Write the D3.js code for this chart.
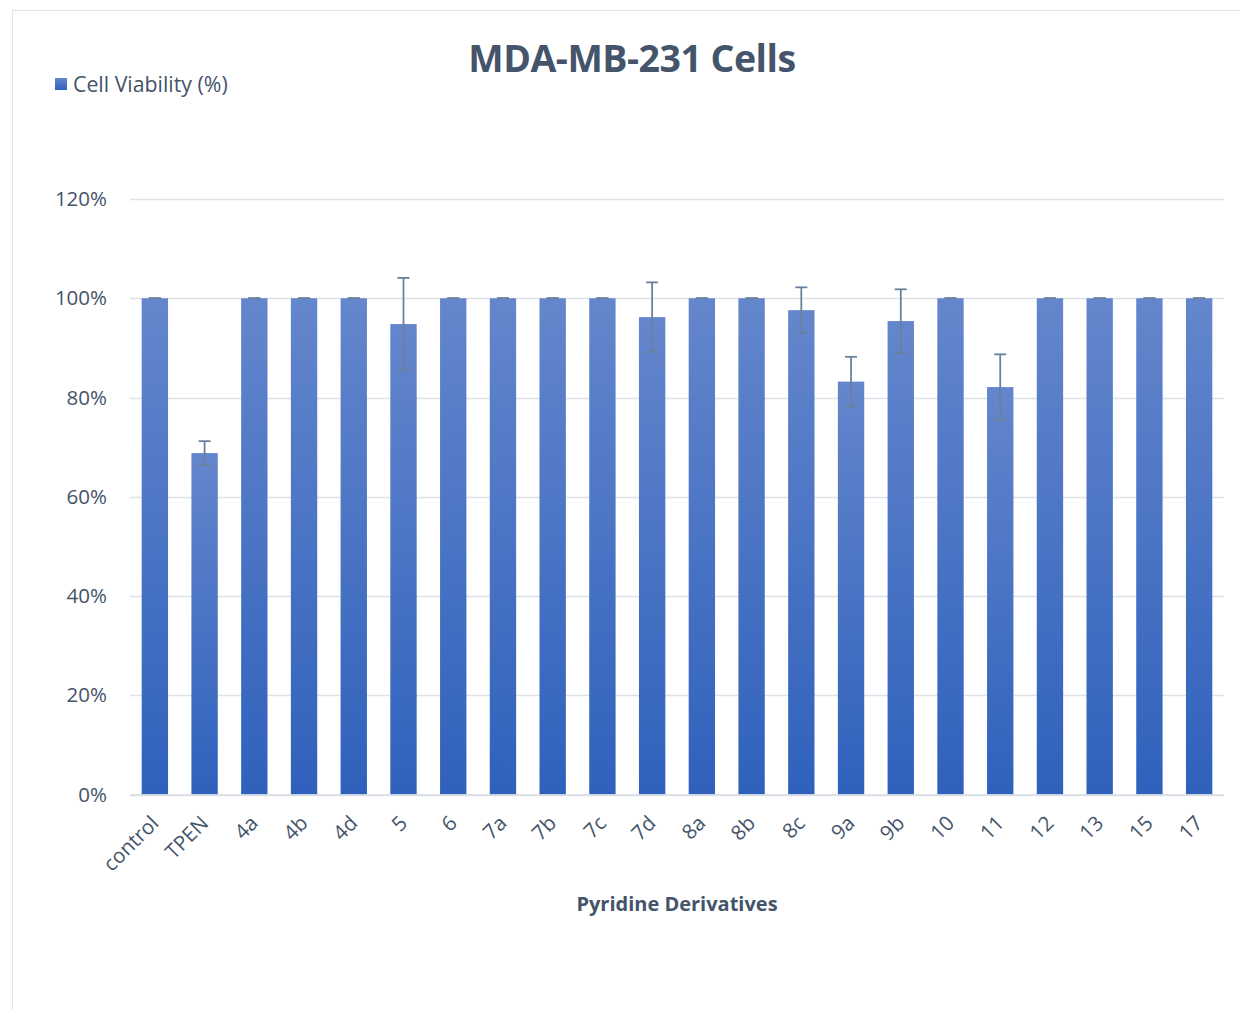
<!DOCTYPE html>
<html>
<head>
<meta charset="utf-8">
<script src="https://cdn.jsdelivr.net/npm/d3@7"></script>
<style>
  body { margin: 0; background: #fff; }
  svg { display: block; font-family: "Open Sans", sans-serif; }
</style>
</head>
<body>
<svg id="chart" width="1240" height="1010"></svg>
<script>
const categories = ["control", "TPEN", "4a", "4b", "4d", "5", "6", "7a", "7b", "7c", "7d",
    "8a", "8b", "8c", "9a", "9b", "10", "11", "12", "13", "15", "17"];
const viability = [100, 68.8, 100, 100, 100, 94.8, 100, 100, 100, 100, 96.2,
    100, 100, 97.6, 83.2, 95.4, 100, 82.1, 100, 100, 100, 100];
const errors = [0, 2.4, 0, 0, 0, 9.3, 0, 0, 0, 0, 7.0,
    0, 0, 4.6, 5.0, 6.4, 0, 6.6, 0, 0, 0, 0];
const yTicks = [0, 20, 40, 60, 80, 100, 120];

const svg = d3.select("#chart");
const margin = { top: 199, right: 16, bottom: 216, left: 130 };
const width = 1240 - margin.left - margin.right;
const height = 1010 - margin.top - margin.bottom + 0.5;
const textColor = "#44546a";

// chart frame
svg.append("rect")
    .attr("x", 12.5).attr("y", 10.5)
    .attr("width", 1240).attr("height", 1010)
    .attr("fill", "none")
    .attr("stroke", "#dde1e8");

const defs = svg.append("defs");
const grad = defs.append("linearGradient")
    .attr("id", "barGrad")
    .attr("x1", 0).attr("y1", 0).attr("x2", 0).attr("y2", 1);
grad.append("stop").attr("offset", "0%").attr("stop-color", "#6486cc");
grad.append("stop").attr("offset", "100%").attr("stop-color", "#2f61bc");

const x = d3.scaleBand()
    .domain(categories)
    .range([0, width])
    .paddingInner(0.47)
    .paddingOuter(0.235);

const y = d3.scaleLinear()
    .domain([0, 120])
    .range([height, 0]);

const g = svg.append("g")
    .attr("transform", `translate(${margin.left}, ${margin.top})`);

// gridlines
g.append("g")
    .selectAll("line")
    .data(yTicks)
    .join("line")
    .attr("x1", 0).attr("x2", width)
    .attr("y1", d => Math.round(y(d)) + 0.5)
    .attr("y2", d => Math.round(y(d)) + 0.5)
    .attr("stroke", "#dde1e8")
    .attr("stroke-width", 1.5);

// y labels
g.append("g")
    .selectAll("text")
    .data(yTicks)
    .join("text")
    .attr("x", -23)
    .attr("y", d => y(d))
    .attr("dy", "0.35em")
    .attr("text-anchor", "end")
    .attr("fill", textColor)
    .attr("font-size", 20.5)
    .text(d => d + "%");

// bars
g.append("g")
    .selectAll("rect")
    .data(categories)
    .join("rect")
    .attr("x", d => x(d))
    .attr("width", x.bandwidth())
    .attr("y", (d, i) => y(viability[i]))
    .attr("height", (d, i) => height - y(viability[i]))
    .attr("fill", "url(#barGrad)");

// error bars
const eb = g.append("g")
    .attr("stroke", "#6a819e")
    .attr("stroke-width", 1.8);
categories.forEach((c, i) => {
    const cx = x(c) + x.bandwidth() / 2;
    const hi = y(viability[i] + errors[i]);
    const lo = y(viability[i] - errors[i]);
    eb.append("line").attr("x1", cx).attr("x2", cx).attr("y1", hi).attr("y2", lo);
    [hi, lo].forEach(yy => {
        eb.append("line")
            .attr("x1", cx - 6).attr("x2", cx + 6)
            .attr("y1", yy).attr("y2", yy);
    });
});

// x axis line
g.append("line")
    .attr("x1", 0).attr("x2", width)
    .attr("y1", height + 0.5).attr("y2", height + 0.5)
    .attr("stroke", "#d9dde4")
    .attr("stroke-width", 1.5);

// x labels
g.append("g")
    .selectAll("text")
    .data(categories)
    .join("text")
    .attr("transform", d => `translate(${x(d) + x.bandwidth() / 2 + 5}, ${height + 30}) rotate(-45)`)
    .attr("text-anchor", "end")
    .attr("fill", textColor)
    .attr("font-size", 20.5)
    .text(d => d);

// title
svg.append("text")
    .attr("x", 632).attr("y", 72)
    .attr("text-anchor", "middle")
    .attr("fill", textColor)
    .attr("font-size", 37.5)
    .attr("font-weight", "bold")
    .attr("letter-spacing", -0.5)
    .text("MDA-MB-231 Cells");

// legend
svg.append("rect")
    .attr("x", 55).attr("y", 78)
    .attr("width", 12).attr("height", 12)
    .attr("fill", "url(#barGrad)");
svg.append("text")
    .attr("x", 73).attr("y", 92)
    .attr("fill", textColor)
    .attr("font-size", 21.3)
    .text("Cell Viability (%)");

// x axis title
svg.append("text")
    .attr("x", margin.left + width / 2).attr("y", 911)
    .attr("text-anchor", "middle")
    .attr("fill", textColor)
    .attr("font-size", 20)
    .attr("font-weight", "bold")
    .text("Pyridine Derivatives");
</script>
</body>
</html>
